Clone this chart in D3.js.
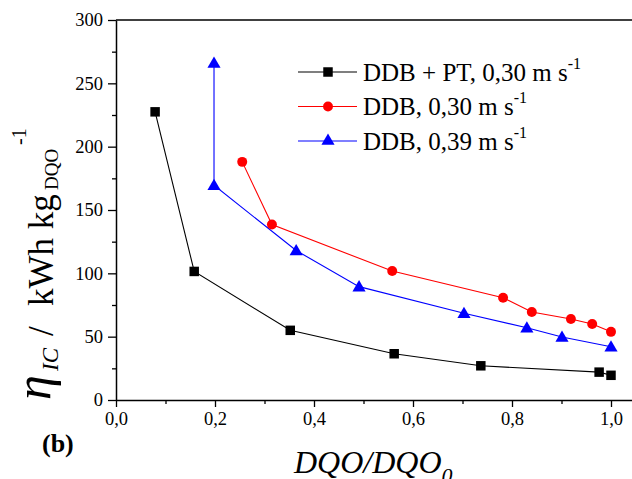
<!DOCTYPE html>
<html>
<head>
<meta charset="utf-8">
<script src="https://cdn.jsdelivr.net/npm/d3@7"></script>
<style>
  html, body { margin: 0; padding: 0; background: #fff; }
  svg, svg text { font-family: "Liberation Serif", "Times New Roman", Times, serif !important; }
</style>
</head>
<body>
<svg id="chart" width="632" height="479"></svg>
<script>
// DQO/DQO0 ratio and specific energy consumption (kWh per kg DQO)
const seriesNames = ["DDB + PT, 0,30 m s", "DDB, 0,30 m s", "DDB, 0,39 m s"];
const seriesColors = ["#000000", "#ff0000", "#0000ff"];
const seriesShapes = ["square", "circle", "triangle"];

const ddbPtX = [0.079, 0.158, 0.352, 0.562, 0.737, 0.976, 1.000];
const ddbPtY = [227.5, 101.5, 55.0, 36.5, 27.0, 22.0, 19.5];

const ddb30X = [0.255, 0.315, 0.558, 0.782, 0.840, 0.919, 0.962, 1.000];
const ddb30Y = [188.0, 138.5, 101.8, 80.8, 69.4, 64.0, 60.0, 53.8];

const ddb39X = [0.198, 0.198, 0.364, 0.491, 0.703, 0.830, 0.901, 1.000];
const ddb39Y = [266.0, 169.5, 118.0, 89.5, 68.5, 57.0, 49.7, 42.0];

const xTicks = [0, 0.2, 0.4, 0.6, 0.8, 1.0];
const xMinorTicks = [0.1, 0.3, 0.5, 0.7, 0.9];
const yTicks = [0, 50, 100, 150, 200, 250, 300];
const yMinorTicks = [25, 75, 125, 175, 225, 275];

const series = [
  { x: ddbPtX, y: ddbPtY },
  { x: ddb30X, y: ddb30Y },
  { x: ddb39X, y: ddb39Y }
].map((s, i) => ({
  name: seriesNames[i], color: seriesColors[i], shape: seriesShapes[i],
  points: s.x.map((v, j) => [v, s.y[j]])
}));

const svg = d3.select("#chart");
const plotLeft = 116, plotTop = 20, plotBottom = 400;
const xScale = d3.scaleLinear().domain([0, 1]).range([plotLeft, 611]);
const xMax = 1.05;
const yScale = d3.scaleLinear().domain([0, 300]).range([plotBottom, plotTop]);

const fmt = d => d3.format(".1f")(d).replace(".", ",");

// frame: top line (runs off the right edge)
svg.append("line")
  .attr("x1", plotLeft).attr("x2", xScale(xMax))
  .attr("y1", plotTop).attr("y2", plotTop)
  .attr("stroke", "#000").attr("stroke-width", 1.3);

// x axis
const xAxis = svg.append("g").attr("transform", `translate(0,${plotBottom})`)
  .call(d3.axisBottom(xScale).tickValues(xTicks).tickFormat(fmt).tickSize(7).tickPadding(5).tickSizeOuter(0));
svg.append("g").attr("transform", `translate(0,${plotBottom})`)
  .call(d3.axisBottom(xScale).tickValues(xMinorTicks).tickFormat("").tickSize(4).tickSizeOuter(0))
  .select(".domain").remove();
xAxis.select(".domain").attr("d", `M${plotLeft},0.5H${xScale(xMax)}`);

// y axis
const yAxis = svg.append("g").attr("transform", `translate(${plotLeft},0)`)
  .call(d3.axisLeft(yScale).tickValues(yTicks).tickFormat(d3.format("d")).tickSize(8).tickPadding(5).tickSizeOuter(0));
svg.append("g").attr("transform", `translate(${plotLeft},0)`)
  .call(d3.axisLeft(yScale).tickValues(yMinorTicks).tickFormat("").tickSize(4).tickSizeOuter(0))
  .select(".domain").remove();

svg.selectAll("g").attr("font-family", null);
svg.selectAll(".tick line").attr("stroke", "#000").attr("stroke-width", 1.3);
svg.selectAll(".domain").attr("stroke", "#000").attr("stroke-width", 1.5);
svg.selectAll(".tick text").attr("font-size", 18.5).attr("fill", "#000");

// series lines and markers
const line = d3.line().x(d => xScale(d[0])).y(d => yScale(d[1]));
const symbolFor = shape => shape === "square" ? d3.symbolSquare
  : shape === "circle" ? d3.symbolCircle : d3.symbolTriangle;
const symbolSize = shape => shape === "square" ? 90 : shape === "circle" ? 78 : 75;

series.forEach(s => {
  svg.append("path").datum(s.points)
    .attr("d", line).attr("fill", "none")
    .attr("stroke", s.color).attr("stroke-width", 1.1);
});
series.forEach(s => {
  svg.append("g").selectAll("path").data(s.points).join("path")
    .attr("transform", d => `translate(${xScale(d[0])},${yScale(d[1]) + (s.shape === "triangle" ? 1 : 0)})`)
    .attr("d", d3.symbol().type(symbolFor(s.shape)).size(symbolSize(s.shape)))
    .attr("fill", s.color);
});

// legend
const legend = svg.append("g").attr("transform", "translate(298,72)");
series.forEach((s, i) => {
  const g = legend.append("g").attr("transform", `translate(0,${i * 34.5})`);
  g.append("line").attr("x1", 0).attr("x2", 59).attr("y1", 0).attr("y2", 0)
    .attr("stroke", s.color).attr("stroke-width", 1.1);
  g.append("path").attr("transform", "translate(30,0)")
    .attr("d", d3.symbol().type(symbolFor(s.shape)).size(symbolSize(s.shape)))
    .attr("fill", s.color);
  const t = g.append("text").attr("x", 65).attr("y", 8.5)
    .attr("font-size", 25).attr("fill", "#000");
  t.append("tspan").text(s.name);
  t.append("tspan").attr("font-size", 16).attr("dy", -12).text("-1");
});

// x axis title
const xt = svg.append("text").attr("x", 294).attr("y", 473)
  .attr("font-size", 32).attr("font-style", "italic").attr("fill", "#000");
xt.append("tspan").text("DQO/DQO");
xt.append("tspan").attr("font-size", 22).attr("dy", 10).text("0");

// y axis title, laid out along the rotated baseline
const yt = svg.append("text")
  .attr("transform", "translate(53,400) rotate(-90)")
  .attr("font-size", 35).attr("fill", "#000");
yt.append("tspan").attr("x", 0).attr("y", -3)
  .attr("font-style", "italic").attr("font-size", 50).text("η");
yt.append("tspan").attr("x", 29).attr("y", 5)
  .attr("font-style", "italic").attr("font-size", 23).text("IC");
yt.append("tspan").attr("x", 64).attr("y", 0).text("/");
yt.append("tspan").attr("x", 94).attr("y", 0).text("kWh kg");
yt.append("tspan").attr("x", 210).attr("y", 5).attr("font-size", 19).text("DQO");
yt.append("tspan").attr("x", 255).attr("y", -27).attr("font-size", 20).text("-1");

// panel label
svg.append("text").attr("x", 42).attr("y", 452)
  .attr("font-size", 26).attr("font-weight", "bold").attr("fill", "#000").text("(b)");
</script>
</body>
</html>
